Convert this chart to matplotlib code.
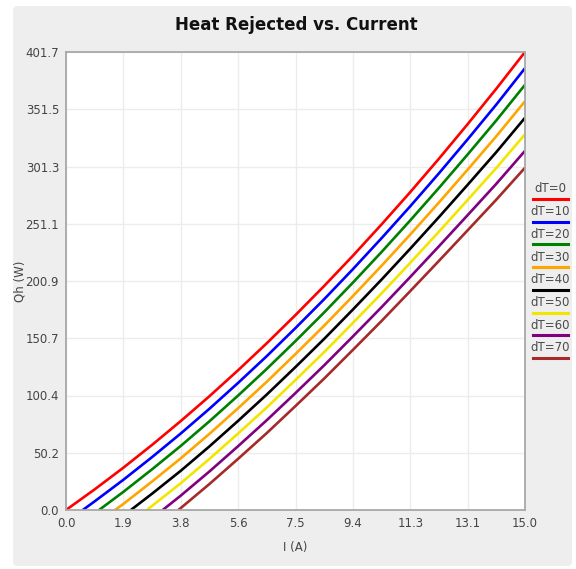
import matplotlib
matplotlib.use("Agg")
import matplotlib.pyplot as plt
from matplotlib.lines import Line2D
from matplotlib.patches import FancyBboxPatch

# curves: Qh (W) at every half gridline current,
# each curve starts at Qh = 0 at its own current (None = before the start)
I_GRID = [0.9375, 1.875, 2.8125, 3.75, 4.6875, 5.625, 6.5625, 7.5,
          8.4375, 9.375, 10.3125, 11.25, 12.1875, 13.125, 14.0625, 15.0]
DT = [0, 10, 20, 30, 40, 50, 60, 70]
I_START = [0.0, 0.55, 1.08, 1.60, 2.12, 2.64, 3.16, 3.67]

QH_DT0 = [18.1, 37.1, 57.1, 78.0, 99.8, 122.6, 146.3, 171.0,
          196.5, 223.0, 250.5, 278.8, 308.1, 338.4, 369.5, 401.7]
QH_DT10 = [7.6, 26.5, 46.4, 67.1, 88.8, 111.5, 135.0, 159.6,
           184.9, 211.2, 238.4, 266.4, 295.3, 325.1, 355.6, 387.5]
QH_DT20 = [None, 15.9, 35.7, 56.2, 77.8, 100.4, 123.8, 148.2,
           173.3, 199.4, 226.3, 254.0, 282.5, 311.8, 341.7, 372.9]
QH_DT30 = [None, 5.3, 25.0, 45.3, 66.8, 89.3, 112.5, 136.8,
           161.7, 187.6, 214.2, 241.6, 269.7, 298.5, 327.8, 358.5]
QH_DT40 = [None, None, 14.3, 34.4, 55.8, 78.2, 101.3, 125.4,
           150.1, 175.8, 202.1, 229.2, 256.9, 285.2, 313.9, 344.0]
QH_DT50 = [None, None, 3.6, 23.5, 44.8, 67.1, 90.0, 114.0,
           138.5, 164.0, 190.0, 216.8, 244.1, 271.9, 300.0, 329.5]
QH_DT60 = [None, None, None, 12.6, 33.8, 56.0, 78.8, 102.6,
           126.9, 152.2, 177.9, 204.4, 231.3, 258.6, 286.1, 315.0]
QH_DT70 = [None, None, None, 1.7, 22.8, 44.9, 67.5, 91.2,
           115.3, 140.4, 165.8, 192.0, 218.5, 245.3, 272.2, 300.2]

QH = [QH_DT0, QH_DT10, QH_DT20, QH_DT30, QH_DT40, QH_DT50, QH_DT60, QH_DT70]
COLORS = ["#ff0000", "#0000ff", "#008000", "#ffa500",
          "#000000", "#f2e600", "#800080", "#a52a2a"]

X_MAX = 15.0
Y_MAX = 401.7
X_TICKS = [0.0, 1.875, 3.75, 5.625, 7.5, 9.375, 11.25, 13.125, 15.0]
X_TICK_LABELS = ["0.0", "1.9", "3.8", "5.6", "7.5", "9.4", "11.3", "13.1", "15.0"]
Y_TICKS = [0.0, 50.2125, 100.425, 150.6375, 200.85, 251.0625, 301.275,
           351.4875, 401.7]
Y_TICK_LABELS = ["0.0", "50.2", "100.4", "150.7", "200.9", "251.1", "301.3",
                 "351.5", "401.7"]

BG = "#eeeeee"
TXT = "#444444"

fig = plt.figure(figsize=(5.76, 5.69), dpi=100)
fig.patch.set_facecolor("white")
fig.add_artist(FancyBboxPatch((13 / 576, 3 / 569), 559 / 576, 560 / 569,
                              boxstyle="round,pad=0,rounding_size=0.008",
                              transform=fig.transFigure, facecolor=BG,
                              edgecolor="none", zorder=-10))

ax = fig.add_axes([66 / 576, 1 - 510 / 569, 459 / 576, 458 / 569])
ax.set_facecolor("white")

for i0, q, c in zip(I_START, QH, COLORS):
    xs = [i0] + [i for i, v in zip(I_GRID, q) if v is not None and i > i0]
    ys = [0.0] + [v for i, v in zip(I_GRID, q) if v is not None and i > i0]
    ax.plot(xs, ys, color=c, lw=1.9, solid_capstyle="butt",
            solid_joinstyle="round")

ax.set_xlim(0, X_MAX)
ax.set_ylim(0, Y_MAX)
ax.set_xticks(X_TICKS)
ax.set_xticklabels(X_TICK_LABELS)
ax.set_yticks(Y_TICKS)
ax.set_yticklabels(Y_TICK_LABELS)
ax.tick_params(length=0, labelsize=8.5, labelcolor=TXT, pad=5)
ax.grid(color="#ececec", lw=1.0)
ax.set_axisbelow(True)
for s in ax.spines.values():
    s.set_color("#a8a8a8")
    s.set_linewidth(1.3)

ax.set_xlabel("I (A)", fontsize=8.5, color=TXT, labelpad=8)
ax.set_ylabel("Qh (W)", fontsize=8.5, color=TXT)
ax.yaxis.set_label_coords(-0.085, 0.5)
fig.text(296 / 576, 1 - 25 / 569, "Heat Rejected vs. Current",
         ha="center", va="center", fontsize=12, fontweight="bold",
         color="#111111")

# legend on the right: label above a short colour bar
for k, (dt, c) in enumerate(zip(DT, COLORS)):
    y_txt = 189 + k * 22.7
    fig.text(550 / 576, 1 - y_txt / 569, f"dT={dt}", ha="center",
             va="center", fontsize=8.5, color="#4a4a4a")
    yl = 1 - (y_txt + 10) / 569
    fig.add_artist(Line2D([533 / 576, 568 / 576], [yl, yl], color=c,
                          lw=2.2, transform=fig.transFigure))

fig.savefig("out.png", dpi=100, facecolor=fig.get_facecolor())
